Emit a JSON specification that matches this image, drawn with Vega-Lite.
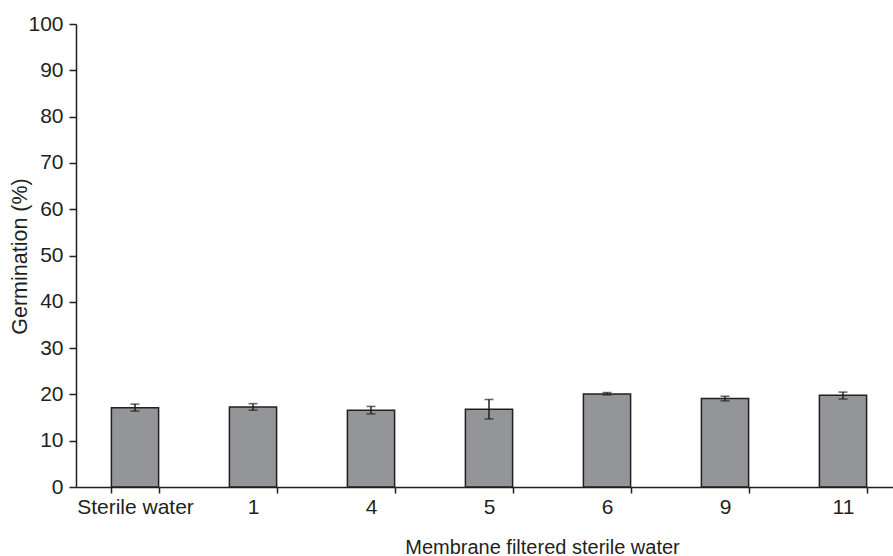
{
  "$schema": "https://vega.github.io/schema/vega-lite/v6.json",
  "autosize": "none",
  "padding": {"left": 76, "top": 24, "right": -9, "bottom": 69},
  "width": 826,
  "height": 463,
  "background": "white",
  "config": {
    "view": {"stroke": null},
    "font": "Liberation Sans",
    "axis": {
      "domainColor": "#231f20",
      "tickColor": "#231f20",
      "labelColor": "#231f20",
      "titleColor": "#231f20",
      "labelFont": "Liberation Sans",
      "titleFont": "Liberation Sans",
      "titleFontWeight": "normal",
      "grid": false,
      "domainWidth": 1.5,
      "tickWidth": 1.5
    }
  },
  "data": {
    "values": [
      {"treatment": "Sterile water", "germination": 17.1, "low": 16.4, "high": 17.9},
      {"treatment": "1", "germination": 17.3, "low": 16.6, "high": 18.0},
      {"treatment": "4", "germination": 16.6, "low": 15.8, "high": 17.4},
      {"treatment": "5", "germination": 16.8, "low": 14.7, "high": 18.9},
      {"treatment": "6", "germination": 20.1, "low": 19.9, "high": 20.4},
      {"treatment": "9", "germination": 19.1, "low": 18.6, "high": 19.6},
      {"treatment": "11", "germination": 19.8, "low": 19.0, "high": 20.5}
    ]
  },
  "encoding": {
    "x": {
      "field": "treatment",
      "type": "nominal",
      "sort": null,
      "scale": {"paddingInner": 0.6, "paddingOuter": 0.3},
      "axis": {
        "title": "Membrane filtered sterile water",
        "titleFontSize": 20,
        "titleX": 466,
        "titleY": 66,
        "titleBaseline": "alphabetic",
        "labelAngle": 0,
        "labelFontSize": 21,
        "labelBaseline": "alphabetic",
        "labelPadding": 20,
        "tickSize": 6,
        "tickBand": "extent"
      }
    }
  },
  "layer": [
    {
      "mark": {"type": "bar", "fill": "#939598", "stroke": "#231f20", "strokeWidth": 1.5},
      "encoding": {
        "y": {
          "field": "germination",
          "type": "quantitative",
          "scale": {"domain": [0, 100], "nice": false},
          "axis": {
            "title": "Germination (%)",
            "titleFontSize": 21.5,
            "titleX": -50,
            "titleY": 232,
            "titleBaseline": "alphabetic",
            "titleAngle": -90,
            "values": [0, 10, 20, 30, 40, 50, 60, 70, 80, 90, 100],
            "labelFontSize": 21,
            "labelPadding": 6,
            "tickSize": 7
          }
        }
      }
    },
    {
      "mark": {"type": "rule", "color": "#231f20", "strokeWidth": 1.5},
      "encoding": {
        "y": {"field": "low", "type": "quantitative"},
        "y2": {"field": "high"}
      }
    },
    {
      "mark": {"type": "tick", "color": "#231f20", "size": 9, "thickness": 1.5},
      "encoding": {
        "y": {"field": "low", "type": "quantitative"}
      }
    },
    {
      "mark": {"type": "tick", "color": "#231f20", "size": 9, "thickness": 1.5},
      "encoding": {
        "y": {"field": "high", "type": "quantitative"}
      }
    }
  ]
}
